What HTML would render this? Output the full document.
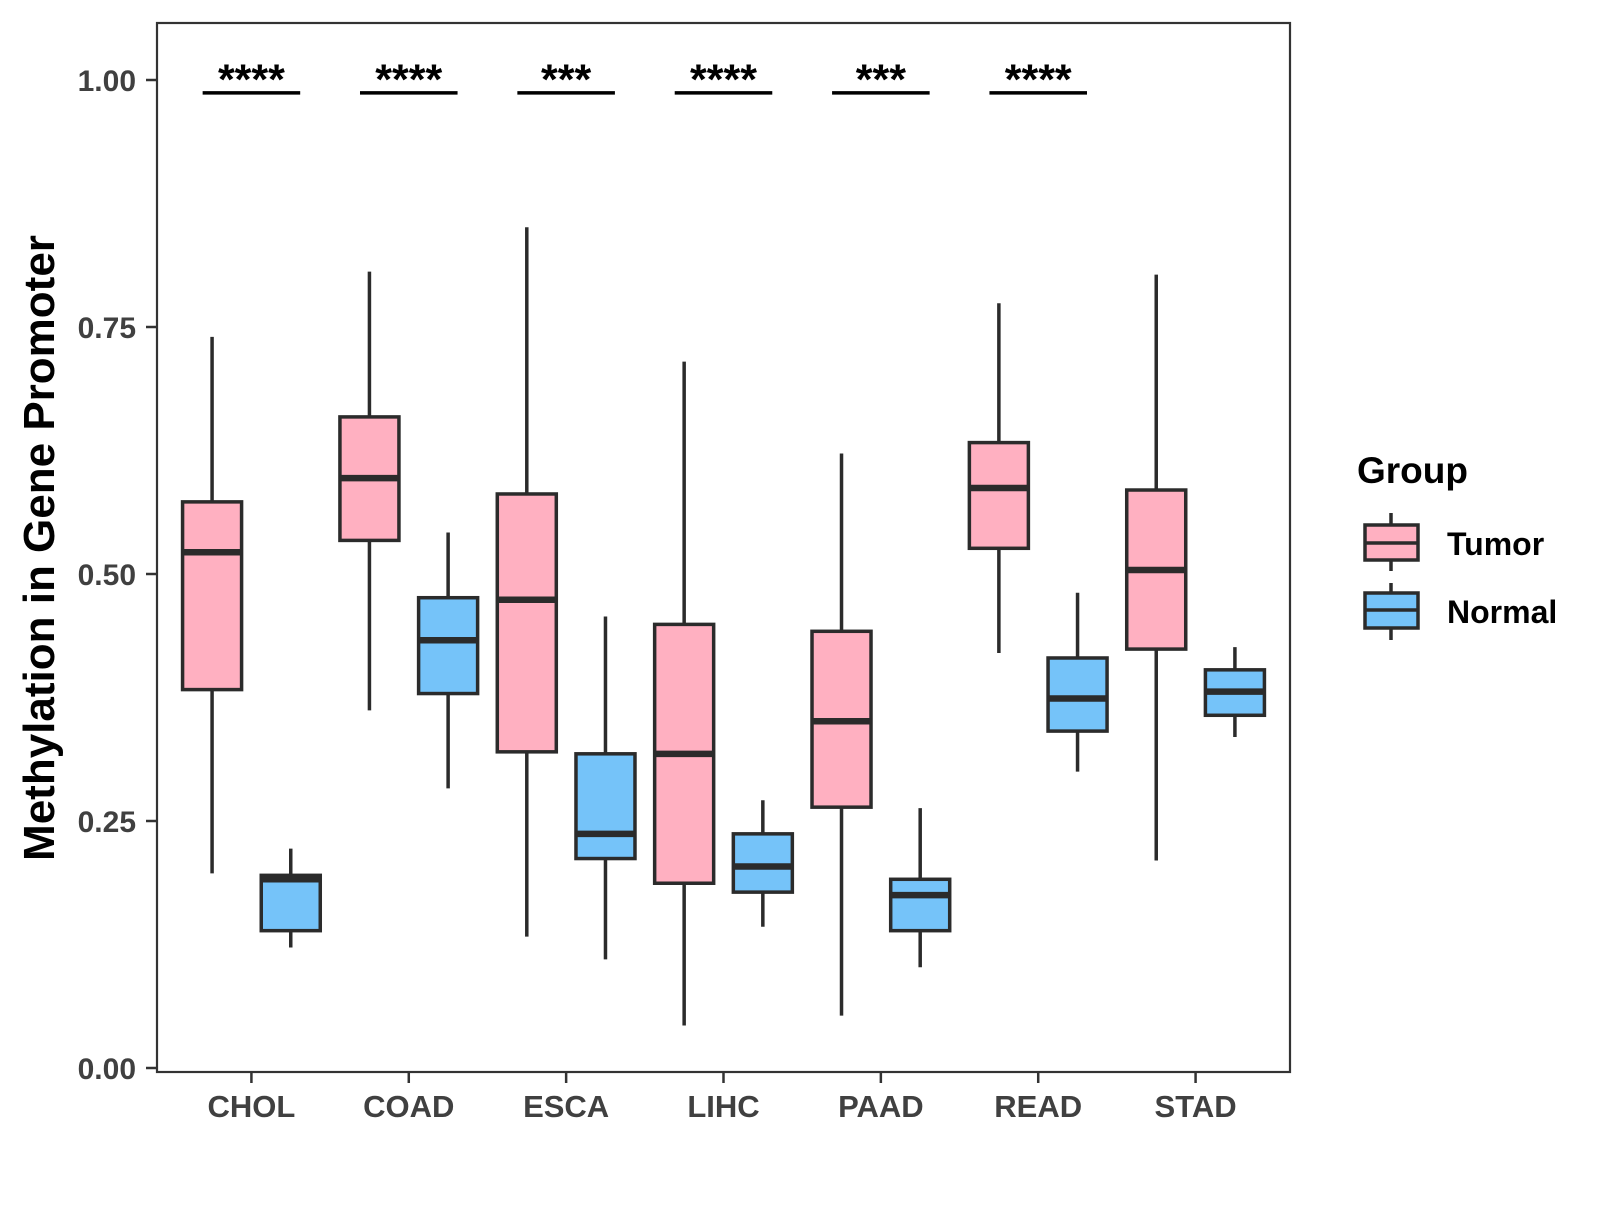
<!DOCTYPE html>
<html><head><meta charset="utf-8"><style>
body{margin:0;background:#fff}
text{font-family:"Liberation Sans",sans-serif;font-weight:bold}
</style></head><body>
<svg id="chart" width="1600" height="1200" xmlns="http://www.w3.org/2000/svg">
<rect x="0" y="0" width="1600" height="1200" fill="#fff"/>
<g id="marks"></g>
<rect x="157" y="23" width="1133" height="1049" fill="none" stroke="#333" stroke-width="2.2"/>
<g id="axes"></g>
<text transform="translate(54,548) rotate(-90)" text-anchor="middle" font-size="44" fill="#000">Methylation in Gene Promoter</text>
<g>
<text x="1357" y="483" font-size="37" fill="#000">Group</text>
<g>
<line x1="1391" y1="513" x2="1391" y2="571" stroke="#2b2b2b" stroke-width="3.5"/>
<rect x="1365" y="525" width="53" height="35" fill="#FFB0C1" stroke="#2b2b2b" stroke-width="3.5"/>
<line x1="1365" y1="543" x2="1418" y2="543" stroke="#2b2b2b" stroke-width="3.5"/>
<text x="1447" y="555" font-size="32" fill="#000">Tumor</text>
</g>
<g>
<line x1="1391" y1="583" x2="1391" y2="640" stroke="#2b2b2b" stroke-width="3.5"/>
<rect x="1365" y="593" width="53" height="35" fill="#75C3F9" stroke="#2b2b2b" stroke-width="3.5"/>
<line x1="1365" y1="610" x2="1418" y2="610" stroke="#2b2b2b" stroke-width="3.5"/>
<text x="1447" y="623" font-size="32" fill="#000">Normal</text>
</g>
</g>
</svg>
<script>
const categories=["CHOL","COAD","ESCA","LIHC","PAAD","READ","STAD"];
// [lowWhisker, Q1, median, Q3, highWhisker]
const tumorStats=[[0.197,0.383,0.522,0.573,0.740],[0.362,0.534,0.597,0.659,0.806],[0.133,0.320,0.474,0.581,0.851],[0.043,0.187,0.318,0.449,0.715],[0.053,0.264,0.351,0.442,0.622],[0.420,0.526,0.587,0.633,0.774],[0.210,0.424,0.504,0.585,0.803]];
const normalStats=[[0.122,0.139,0.191,0.195,0.222],[0.283,0.379,0.433,0.476,0.542],[0.110,0.212,0.237,0.318,0.457],[0.143,0.178,0.204,0.237,0.271],[0.102,0.139,0.175,0.191,0.263],[0.300,0.341,0.374,0.415,0.481],[0.335,0.357,0.381,0.403,0.426]];
const signif=["****","****","***","****","***","****",""];
const yTicks=[0,0.25,0.5,0.75,1.0];
const yTickLabels=["0.00","0.25","0.50","0.75","1.00"];
const sigLevel=0.987;

const NS="http://www.w3.org/2000/svg";
const xs=i=>157+(i+0.6)*157.36;
const ys=v=>1068-v*988;
const unit=157.36;
function mk(tag,attrs,parent){const e=document.createElementNS(NS,tag);for(const k in attrs)e.setAttribute(k,attrs[k]);parent.appendChild(e);return e;}
const marks=document.getElementById('marks'),axes=document.getElementById('axes');
function drawBox(cx,s,fill,name){
  const g=mk('g',{},marks);
  
  
  const w=unit*0.375;
  mk('line',{x1:cx,x2:cx,y1:ys(s[0]),y2:ys(s[4]),stroke:'#2b2b2b','stroke-width':3.5},g);
  mk('rect',{x:cx-w/2,y:ys(s[3]),width:w,height:ys(s[1])-ys(s[3]),fill:fill,stroke:'#2b2b2b','stroke-width':3.5},g);
  mk('line',{x1:cx-w/2,x2:cx+w/2,y1:ys(s[2]),y2:ys(s[2]),stroke:'#2b2b2b','stroke-width':6.5},g);
}
categories.forEach((c,i)=>{
  drawBox(xs(i)-unit*0.25,tumorStats[i],'#FFB0C1','box-tumor-'+c.toLowerCase());
  drawBox(xs(i)+unit*0.25,normalStats[i],'#75C3F9','box-normal-'+c.toLowerCase());
  if(signif[i]){
    const l=mk('line',{x1:xs(i)-unit*0.31,x2:xs(i)+unit*0.31,y1:ys(sigLevel),y2:ys(sigLevel),stroke:'#000','stroke-width':3.5},marks);
    
    
    const t=mk('text',{x:xs(i),y:ys(sigLevel)+1,'text-anchor':'middle','font-size':43,fill:'#000'},marks);
    
    
    t.textContent=signif[i];
  }
  const tk=mk('line',{x1:xs(i),x2:xs(i),y1:1072,y2:1083,stroke:'#333','stroke-width':2.5},axes);
  
  
  const tl=mk('text',{x:xs(i),y:1117,'text-anchor':'middle','font-size':31,fill:'#404040'},axes);
  
  
  tl.textContent=c;
});
yTicks.forEach((v,i)=>{
  const tk=mk('line',{x1:146,x2:157,y1:ys(v),y2:ys(v),stroke:'#333','stroke-width':2.5},axes);
  
  
  const tl=mk('text',{x:136,y:ys(v)+11,'text-anchor':'end','font-size':30,fill:'#404040'},axes);
  
  
  tl.textContent=yTickLabels[i];
});
</script>
</body></html>
